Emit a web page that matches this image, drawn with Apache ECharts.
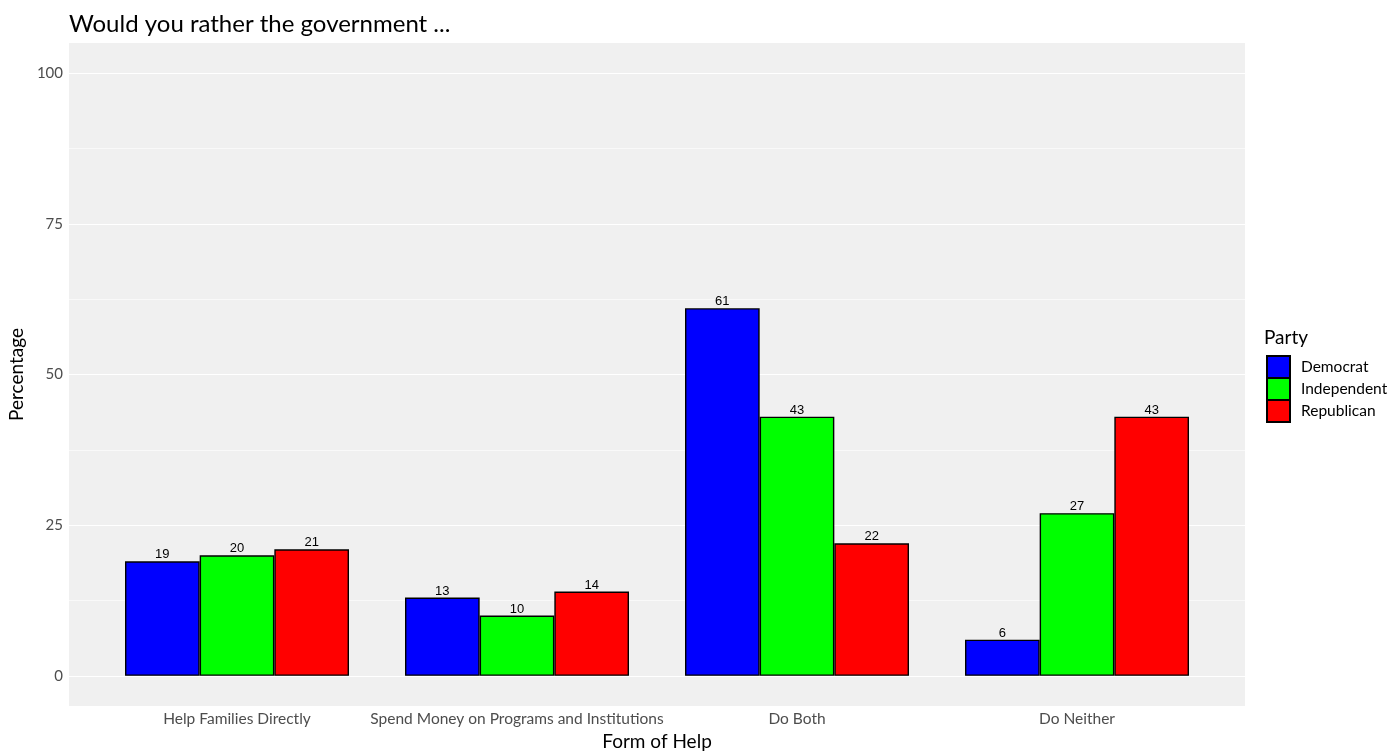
<!DOCTYPE html>
<html>
<head>
<meta charset="utf-8">
<script src="https://cdn.jsdelivr.net/npm/echarts@6/dist/echarts.min.js"></script>
<style>html,body{margin:0;padding:0;background:#fff}#c{width:1400px;height:752px}</style>
</head>
<body>
<div id="c"></div>
<script>
const categories = ["Help Families Directly", "Spend Money on Programs and Institutions", "Do Both", "Do Neither"];
const parties = ["Democrat", "Independent", "Republican"];
const democrat = [19, 13, 61, 6];
const independent = [20, 10, 43, 27];
const republican = [21, 14, 22, 43];
const yTicks = [0, 25, 50, 75, 100];
const yMinor = [12.5, 37.5, 62.5, 87.5];
const colors = ["#0000FF", "#00FF00", "#FF0000"];

const FONT = "Lato";
const seriesValues = [democrat, independent, republican];

const chart = echarts.init(document.getElementById('c'));
const barSeries = parties.map((p, i) => ({
  name: p,
  type: 'bar',
  xAxisIndex: 1,
  yAxisIndex: 1,
  data: seriesValues[i],
  barGap: '0%',
  barCategoryGap: '20%',
  itemStyle: { color: colors[i], borderColor: '#000', borderWidth: 1.4 },
  label: { show: true, position: 'top', distance: 0, color: '#000', fontFamily: 'Liberation Sans', fontSize: 13 },
  emphasis: { disabled: true },
  z: 3
}));

chart.setOption({
  animation: false,
  backgroundColor: '#fff',
  title: [
    { text: 'Would you rather the government ...', left: 64, top: 7, textStyle: { fontFamily: FONT, fontWeight: 'normal', fontSize: 24, color: '#000' } },
    { text: 'Party', left: 1259, top: 323, textStyle: { fontFamily: FONT, fontWeight: 'normal', fontSize: 19, color: '#000' } }
  ],
  legend: {
    data: parties,
    orient: 'vertical',
    left: 1266,
    top: 355,
    padding: 0,
    itemWidth: 23,
    itemHeight: 22,
    itemGap: -2,
    icon: 'rect',
    textStyle: { fontFamily: FONT, fontSize: 15.5, color: '#000', padding: [0, 0, 0, 6] },
    selectedMode: false
  },
  grid: [
    { left: 69, right: 155, top: 43, bottom: 46, show: true, backgroundColor: '#F0F0F0', borderWidth: 0, containLabel: false, outerBoundsMode: 'none' },
    { left: 97, right: 183, top: 43, bottom: 46, containLabel: false, outerBoundsMode: 'none' }
  ],
  xAxis: [
    { type: 'value', gridIndex: 0, min: 0, max: 1, show: false },
    {
      type: 'category', gridIndex: 1, data: categories,
      axisLine: { show: false }, axisTick: { show: false },
      axisLabel: { fontFamily: FONT, fontSize: 15.5, color: '#4D4D4D', margin: 5, interval: 0 },
      name: 'Form of Help', nameLocation: 'middle', nameGap: 23,
      nameTextStyle: { fontFamily: FONT, fontSize: 19, color: '#000' }
    }
  ],
  yAxis: [
    {
      type: 'value', gridIndex: 0, min: -5, max: 105,
      axisLine: { show: false }, axisTick: { show: false }, splitLine: { show: false },
      axisLabel: { customValues: yTicks, fontFamily: FONT, fontSize: 15, color: '#4D4D4D', margin: 6 },
      name: 'Percentage', nameLocation: 'middle', nameGap: 38, nameRotate: 90,
      nameTextStyle: { fontFamily: FONT, fontSize: 19, color: '#000' }
    },
    { type: 'value', gridIndex: 1, min: -5, max: 105, show: false }
  ],
  series: [
    {
      type: 'line', xAxisIndex: 0, yAxisIndex: 0, data: [], silent: true, z: 1,
      markLine: {
        silent: true, symbol: 'none', label: { show: false }, animation: false, z: 1,
        data: yMinor.map(v => ({ yAxis: v, lineStyle: { color: '#FFFFFF', width: 0.6, type: 'solid' } }))
          .concat(yTicks.map(v => ({ yAxis: v, lineStyle: { color: '#FFFFFF', width: 1.2, type: 'solid' } })))
      }
    }
  ].concat(barSeries)
});
</script>
</body>
</html>
